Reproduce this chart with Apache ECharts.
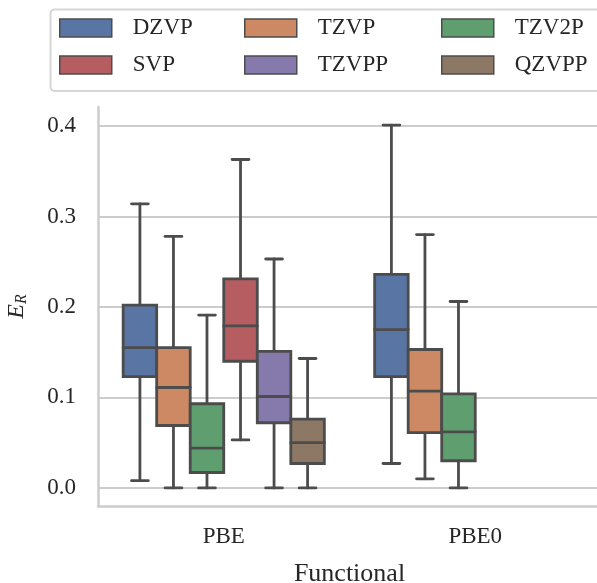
<!DOCTYPE html>
<html>
<head>
<meta charset="utf-8">
<script src="https://cdn.jsdelivr.net/npm/echarts@6.0.0/dist/echarts.min.js"></script>
<style>
  html, body { margin: 0; padding: 0; background: #fff; }
  #main { width: 597px; height: 583px; }
</style>
</head>
<body>
<div id="main"></div>
<script>
const functionals = ['PBE', 'PBE0'];
const basisSets = ['DZVP', 'TZVP', 'TZV2P', 'SVP', 'TZVPP', 'QZVPP'];
// [min, Q1, median, Q3, max] for PBE, PBE0 (null = not computed)
const dzvp  = [[0.008, 0.123, 0.155, 0.202, 0.314], [0.027, 0.123, 0.175, 0.236, 0.401]];
const tzvp  = [[0.000, 0.069, 0.111, 0.155, 0.278], [0.010, 0.061, 0.107, 0.153, 0.280]];
const tzv2p = [[0.000, 0.017, 0.044, 0.093, 0.191], [0.000, 0.030, 0.062, 0.104, 0.206]];
const svp   = [[0.053, 0.140, 0.179, 0.231, 0.363], null];
const tzvpp = [[0.000, 0.072, 0.101, 0.151, 0.253], null];
const qzvpp = [[0.000, 0.027, 0.050, 0.076, 0.143], null];
const yTicks = [0.0, 0.1, 0.2, 0.3, 0.4];

const seriesData = [dzvp, tzvp, tzv2p, svp, tzvpp, qzvpp];
const colors = ['#5875a4', '#cc8963', '#5f9e6e', '#b55d60', '#857aab', '#8d7866'];
const FONT = '"Liberation Serif", "DejaVu Serif", serif';
const TXT = '#262626';
const LINE = '#4c4c4c';
const GRID = '#cccccc';
const slot = 0.8 / basisSets.length;

function renderBox(params, api) {
  const h = params.seriesIndex;
  const xv = api.value(0) + (h - (basisSets.length - 1) / 2) * slot;
  const w = api.size([slot, 0])[0];
  const pMin = api.coord([xv, api.value(1)]);
  const pQ1 = api.coord([xv, api.value(2)]);
  const pMed = api.coord([xv, api.value(3)]);
  const pQ3 = api.coord([xv, api.value(4)]);
  const pMax = api.coord([xv, api.value(5)]);
  const cx = pMed[0];
  const ln = { stroke: LINE, lineWidth: 2.8, lineCap: 'round' };
  return {
    type: 'group',
    children: [
      { type: 'line', shape: { x1: cx, y1: pMin[1], x2: cx, y2: pQ1[1] }, style: ln },
      { type: 'line', shape: { x1: cx, y1: pQ3[1], x2: cx, y2: pMax[1] }, style: ln },
      { type: 'line', shape: { x1: cx - w / 4, y1: pMin[1], x2: cx + w / 4, y2: pMin[1] }, style: ln },
      { type: 'line', shape: { x1: cx - w / 4, y1: pMax[1], x2: cx + w / 4, y2: pMax[1] }, style: ln },
      { type: 'rect', shape: { x: cx - w / 2, y: pQ3[1], width: w, height: pQ1[1] - pQ3[1] },
        style: { fill: api.visual('color'), stroke: LINE, lineWidth: 2.8 } },
      { type: 'line', shape: { x1: cx - w / 2, y1: pMed[1], x2: cx + w / 2, y2: pMed[1] }, style: ln }
    ]
  };
}

const series = basisSets.map((name, h) => ({
  name: name,
  type: 'custom',
  xAxisIndex: 1,
  renderItem: renderBox,
  itemStyle: { color: colors[h] },
  encode: { x: 0, y: [1, 2, 3, 4, 5] },
  data: seriesData[h]
    .map((v, i) => v ? [i].concat(v) : null)
    .filter(v => v)
}));

const legendCols = [59, 244, 441];
const legends = legendCols.map((x, c) => ({
  data: [basisSets[c], basisSets[c + 3]],
  orient: 'vertical',
  left: x - 5,
  top: 11.5,
  icon: 'rect',
  itemWidth: 52,
  itemHeight: 18,
  itemGap: 14,
  itemStyle: { borderColor: LINE, borderWidth: 1.5 },
  textStyle: { fontFamily: FONT, fontSize: 23, color: TXT, padding: [0, 0, 0, 16] }
}));

const chart = echarts.init(document.getElementById('main'), null, { renderer: 'canvas' });
chart.setOption({
  backgroundColor: '#ffffff',
  animation: false,
  textStyle: { fontFamily: FONT },
  graphic: [{
    type: 'rect',
    left: 49.5, top: 8.5,
    shape: { width: 600, height: 81.5, r: 4 },
    style: { fill: '#ffffff', stroke: '#d6d6d6', lineWidth: 2 },
    z: -1
  }],
  legend: legends,
  grid: { left: 98, top: 107, width: 503, height: 399, containLabel: false, outerBoundsMode: 'none' },
  xAxis: [{
    type: 'category',
    data: functionals,
    axisLine: { show: true, onZero: false, lineStyle: { color: GRID, width: 2.5 } },
    axisTick: { show: false },
    splitLine: { show: false },
    axisLabel: { fontFamily: FONT, fontSize: 23, color: TXT, margin: 19 },
    name: 'Functional',
    nameLocation: 'middle',
    nameGap: 55,
    nameTextStyle: { fontFamily: FONT, fontSize: 26, color: TXT }
  }, {
    type: 'value',
    min: -0.5,
    max: 1.5,
    show: false
  }],
  yAxis: {
    type: 'value',
    min: -0.02,
    max: 0.421,
    splitNumber: 5,
    axisLine: { show: true, onZero: false, lineStyle: { color: GRID, width: 2.5 } },
    axisTick: { show: false },
    splitLine: { show: true, showMinLine: false, showMaxLine: false, lineStyle: { color: GRID, width: 2 } },
    axisLabel: {
      fontFamily: FONT, fontSize: 23, color: TXT, margin: 22,
      showMinLabel: false, showMaxLabel: false,
      formatter: function (v) {
        const t = yTicks.find(t => Math.abs(t - v) < 1e-9);
        return t === undefined ? '' : t.toFixed(1);
      }
    },
    name: '{e|E}{r|R}',
    nameLocation: 'middle',
    nameRotate: 90,
    nameGap: 68,
    nameTextStyle: {
      color: TXT,
      rich: {
        e: { fontFamily: FONT, fontStyle: 'italic', fontSize: 24, lineHeight: 26, color: TXT },
        r: { fontFamily: FONT, fontStyle: 'italic', fontSize: 16, lineHeight: 18, verticalAlign: 'bottom', color: TXT }
      }
    }
  },
  series: series
});
</script>
</body>
</html>
